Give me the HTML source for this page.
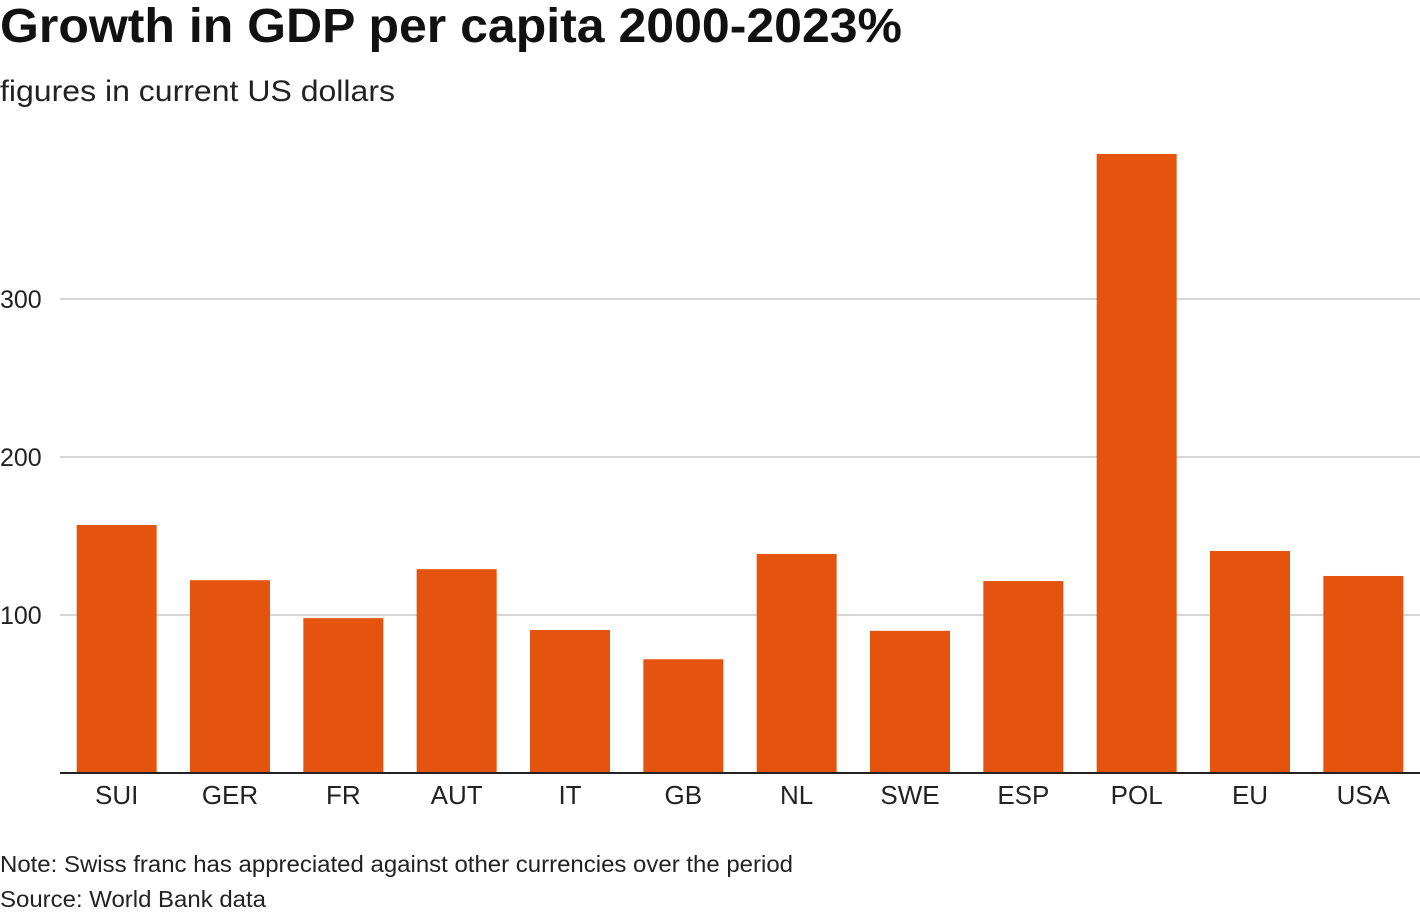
<!DOCTYPE html>
<html><head><meta charset="utf-8"><style>
body{margin:0;width:1420px;height:918px;background:#fff;font-family:"Liberation Sans",sans-serif;overflow:hidden}
</style></head><body>
<svg width="1420" height="918" font-family="Liberation Sans, sans-serif">
<text x="0" y="42" font-size="48" font-weight="bold" fill="#111" textLength="902" lengthAdjust="spacingAndGlyphs">Growth in GDP per capita 2000-2023%</text>
<text x="0" y="101" font-size="30" fill="#222" textLength="395" lengthAdjust="spacingAndGlyphs">figures in current US dollars</text>
<g id="grid"></g><g id="bars"></g><g id="xlabels"></g>
<text x="0" y="872" font-size="23" fill="#222" textLength="793" lengthAdjust="spacingAndGlyphs">Note: Swiss franc has appreciated against other currencies over the period</text>
<text x="0" y="907" font-size="23" fill="#222" textLength="266" lengthAdjust="spacingAndGlyphs">Source: World Bank data</text>
</svg>
<script>
const categories=["SUI","GER","FR","AUT","IT","GB","NL","SWE","ESP","POL","EU","USA"];
const values=[157,122,98,129,90.5,72,138.6,90,121.5,391.8,140.5,124.7];
const ticks=[100,200,300];
const NS="http://www.w3.org/2000/svg";
const x0=60,x1=1420,y0=773,pxPer=1.58;
const band=(x1-x0)/categories.length,bw=80;
const y=v=>y0-v*pxPer;
function mk(t,a,p){const e=document.createElementNS(NS,t);for(const k in a)e.setAttribute(k,a[k]);p.appendChild(e);return e;}
const g=document.getElementById('grid'),b=document.getElementById('bars'),xl=document.getElementById('xlabels');
ticks.forEach(t=>{
 const l=mk('line',{x1:x0,x2:x1,y1:y(t),y2:y(t),stroke:'#bdbdbd','stroke-width':1.3},g);
 
 
 const tx=mk('text',{x:0,y:y(t)+9,'font-size':25,fill:'#222'},g);tx.textContent=t;
 
 
});
categories.forEach((c,i)=>{
 const cx=x0+band*(i+0.5);
 const r=mk('rect',{x:cx-bw/2,y:y(values[i]),width:bw,height:values[i]*pxPer,fill:'#e5540f'},b);
 
 
 const t=mk('text',{x:cx,y:804,'font-size':26,fill:'#222','text-anchor':'middle'},xl);t.textContent=c;
 
 
});
const base=mk('line',{x1:x0,x2:x1,y1:y0,y2:y0,stroke:'#222','stroke-width':2},g.parentNode);


</script>
</body></html>
